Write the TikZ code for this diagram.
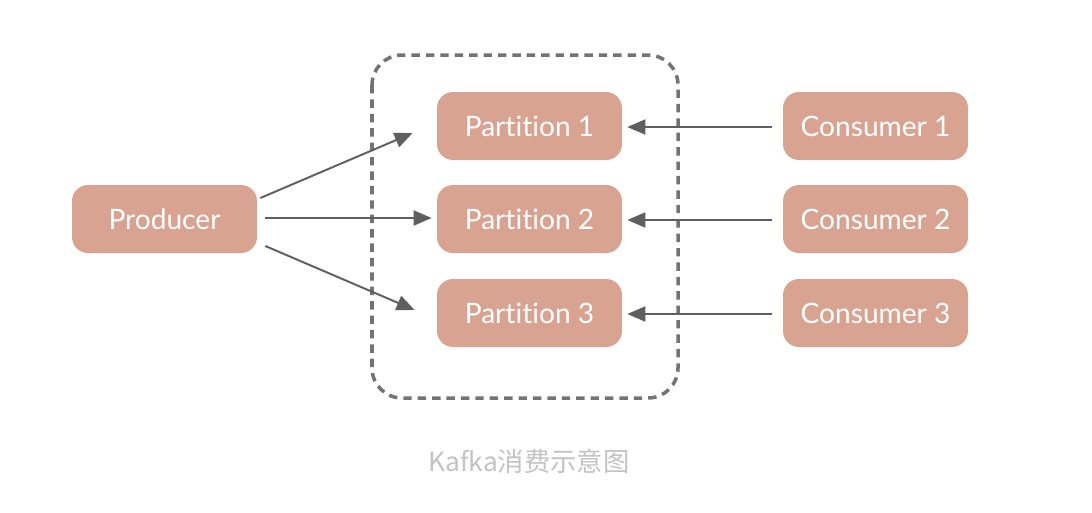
\documentclass[tikz,border=0pt]{standalone}
\usepackage{fontspec}
\setmainfont{Lato}[Ligatures={NoCommon,NoRare}]
\newfontfamily\cjk{Noto Sans CJK SC}
\usetikzlibrary{arrows.meta}
\definecolor{boxfill}{RGB}{216,164,145}
\definecolor{arrowgray}{RGB}{95,95,95}
\definecolor{framegray}{RGB}{115,115,115}
\definecolor{captiongray}{RGB}{195,195,195}
\begin{document}
\begin{tikzpicture}[x=0.02cm,y=-0.02cm,
    block/.style={fill=boxfill,rounded corners=0.32cm,minimum width=3.7cm,minimum height=1.36cm,
      text=white,font=\fontsize{16}{19}\selectfont},
    arr/.style={arrowgray,line width=1.1pt,-{Triangle[length=0.36cm,width=0.3cm]}}]
    \useasboundingbox [fill=white] (0,0) rectangle (1092,512);
    % topic frame
    \draw [framegray,line width=2pt,dash pattern=on 4.8pt off 3.4pt,rounded corners=0.6cm] (372,55) rectangle (678,398);
    \node [block] (prod) at (164.5,219) {Producer};
    \node [block] (p1) at (529.5,126) {Partition 1};
    \node [block] (p2) at (529.5,219) {Partition 2};
    \node [block] (p3) at (529.5,313) {Partition 3};
    \node [block] (c1) at (875.5,126) {Consumer 1};
    \node [block] (c2) at (875.5,219) {Consumer 2};
    \node [block] (c3) at (875.5,313) {Consumer 3};
    \draw [arr] ([shift={(3,-21)}]prod.east) -- ([shift={(-24,7)}]p1.west);
    \draw [arr] ([shift={(8,-1)}]prod.east) -- ([shift={(-5,-1)}]p2.west);
    \draw [arr] ([shift={(8,27)}]prod.east) -- ([shift={(-22,-3)}]p3.west);
    \draw [arr] ([shift={(-11,1)}]c1.west) -- ([shift={(5,1)}]p1.east);
    \draw [arr] ([shift={(-11,1)}]c2.west) -- ([shift={(5,1)}]p2.east);
    \draw [arr] ([shift={(-11,1)}]c3.west) -- ([shift={(5,1)}]p3.east);
    \node [text=captiongray,font=\cjk\fontsize{15}{18}\selectfont] (cap) at (529,461) {Kafka消费示意图};
\end{tikzpicture}
\end{document}
